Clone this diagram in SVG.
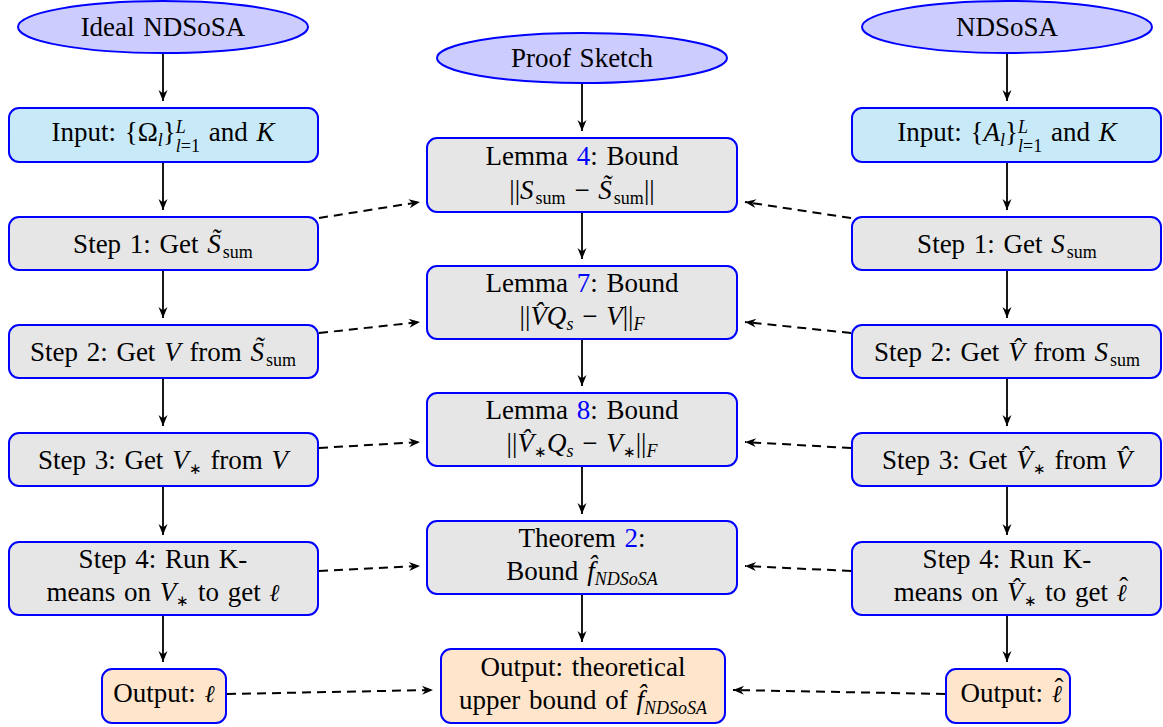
<svg xmlns="http://www.w3.org/2000/svg" width="1163" height="727" viewBox="0 0 1163 727">
<style>
.t{font-family:"Liberation Serif","Times New Roman",serif;font-size:27px;word-spacing:2px;fill:#000;text-anchor:middle}
.i{font-style:italic}
.s{font-size:18px;word-spacing:0}
.a{font-size:15px}
.ell2{font-family:"DejaVu Serif",serif;font-style:italic;font-size:24px}
.b{fill:#0000FF}
.ell{fill:#CCCCFF;stroke:#0000FF;stroke-width:2}
.box{fill:#E6E6E6;stroke:#0000FF;stroke-width:2}
.inp{fill:#C8EAF8;stroke:#0000FF;stroke-width:2}
.out{fill:#FFE5CC;stroke:#0000FF;stroke-width:2}
.sol{fill:none;stroke:#000;stroke-width:1.8;marker-end:url(#ah)}
.dsh{fill:none;stroke:#000;stroke-width:2;stroke-dasharray:9 6;marker-end:url(#ah)}
</style>
<defs>
<marker id="ah" markerUnits="userSpaceOnUse" viewBox="-12 -6 13 12" markerWidth="13" markerHeight="12" refX="0" refY="0" orient="auto">
<path d="M0,0 L-11,-4.5 L-7.5,0 L-11,4.5 Z" fill="#000"/>
</marker>
</defs>

<g id="connectors">
<line class="sol" x1="163" y1="53" x2="163" y2="101"/>
<line class="sol" x1="163" y1="162" x2="163" y2="210"/>
<line class="sol" x1="163" y1="270" x2="163" y2="318"/>
<line class="sol" x1="163" y1="378" x2="163" y2="426"/>
<line class="sol" x1="163" y1="486" x2="163" y2="535"/>
<line class="sol" x1="163" y1="615" x2="163" y2="662"/>
<line class="sol" x1="582" y1="83" x2="582" y2="131"/>
<line class="sol" x1="582" y1="212" x2="582" y2="259"/>
<line class="sol" x1="582" y1="339" x2="582" y2="386"/>
<line class="sol" x1="582" y1="466" x2="582" y2="514"/>
<line class="sol" x1="582" y1="594" x2="582" y2="642"/>
<line class="sol" x1="1007" y1="53" x2="1007" y2="101"/>
<line class="sol" x1="1007" y1="162" x2="1007" y2="210"/>
<line class="sol" x1="1007" y1="270" x2="1007" y2="318"/>
<line class="sol" x1="1007" y1="378" x2="1007" y2="426"/>
<line class="sol" x1="1007" y1="486" x2="1007" y2="535"/>
<line class="sol" x1="1007" y1="615" x2="1007" y2="662"/>
<line class="dsh" x1="319" y1="218" x2="420" y2="202"/>
<line class="dsh" x1="319" y1="333" x2="420" y2="322"/>
<line class="dsh" x1="319" y1="448" x2="420" y2="442"/>
<line class="dsh" x1="319" y1="571" x2="420" y2="566"/>
<line class="dsh" x1="227" y1="694" x2="433" y2="690"/>
<line class="dsh" x1="851" y1="218" x2="745" y2="202"/>
<line class="dsh" x1="851" y1="333" x2="745" y2="322"/>
<line class="dsh" x1="851" y1="448" x2="745" y2="442"/>
<line class="dsh" x1="851" y1="571" x2="745" y2="566"/>
<line class="dsh" x1="945" y1="694" x2="733" y2="690"/>
</g>

<g id="ideal">
<ellipse class="ell" cx="163" cy="27" rx="145" ry="26"/>
<text class="t" x="163" y="36">Ideal NDSoSA</text>
</g>
<g id="input-left">
<rect class="inp" x="9" y="108" width="309" height="54" rx="10"/>
<text class="t" x="163" y="141">Input: {Ω<tspan class="i s" dy="5">l</tspan><tspan dy="-5">}</tspan><tspan class="i s" dy="-8">L</tspan><tspan class="i s" dx="-10" dy="19">l</tspan><tspan class="s">=1</tspan><tspan dy="-11"> and </tspan><tspan class="i">K</tspan></text>
</g>
<g id="step1-left">
<rect class="box" x="9" y="217" width="309" height="53" rx="10"/>
<text class="t" x="163" y="253">Step 1: Get <tspan class="i">S&#x303;</tspan><tspan class="s" dx="2" dy="5">sum</tspan></text>
</g>
<g id="step2-left">
<rect class="box" x="9" y="325" width="309" height="53" rx="10"/>
<text class="t" x="163" y="361">Step 2: Get <tspan class="i">V</tspan> from <tspan class="i">S&#x303;</tspan><tspan class="s" dx="2" dy="5">sum</tspan></text>
</g>
<g id="step3-left">
<rect class="box" x="9" y="433" width="309" height="53" rx="10"/>
<text class="t" x="163" y="469">Step 3: Get <tspan class="i">V</tspan><tspan class="a" dy="5">∗</tspan><tspan dy="-5"> from </tspan><tspan class="i">V</tspan></text>
</g>
<g id="step4-left">
<rect class="box" x="9" y="542" width="309" height="73" rx="10"/>
<text class="t" x="163" y="568">Step 4: Run K-</text>
<text class="t" x="163" y="601">means on <tspan class="i">V</tspan><tspan class="a" dy="5">∗</tspan><tspan dy="-5"> to get </tspan><tspan class="ell2">ℓ</tspan></text>
</g>
<g id="output-left">
<rect class="out" x="102" y="669" width="124" height="54" rx="10"/>
<text class="t" x="164" y="702">Output: <tspan class="ell2">ℓ</tspan></text>
</g>

<g id="proof">
<ellipse class="ell" cx="582" cy="58" rx="145" ry="25"/>
<text class="t" x="582" y="67">Proof Sketch</text>
</g>
<g id="lemma4">
<rect class="box" x="427" y="138" width="310" height="74" rx="10"/>
<text class="t" x="582" y="165">Lemma <tspan class="b">4</tspan>: Bound</text>
<text class="t" x="582" y="199">||<tspan class="i">S</tspan><tspan class="s" dx="2" dy="5">sum</tspan><tspan dy="-5"> − </tspan><tspan class="i">S&#x303;</tspan><tspan class="s" dx="2" dy="5">sum</tspan><tspan dy="-5">||</tspan></text>
</g>
<g id="lemma7">
<rect class="box" x="427" y="266" width="310" height="73" rx="10"/>
<text class="t" x="582" y="292">Lemma <tspan class="b">7</tspan>: Bound</text>
<text class="t" x="582" y="325">||<tspan class="i">V&#x302;Q</tspan><tspan class="i s" dy="5">s</tspan><tspan dy="-5"> − </tspan><tspan class="i">V</tspan>||<tspan class="i s" dy="5">F</tspan></text>
</g>
<g id="lemma8">
<rect class="box" x="427" y="393" width="310" height="73" rx="10"/>
<text class="t" x="582" y="419">Lemma <tspan class="b">8</tspan>: Bound</text>
<text class="t" x="582" y="452">||<tspan class="i">V&#x302;</tspan><tspan class="a" dy="5">∗</tspan><tspan class="i" dy="-5">Q</tspan><tspan class="i s" dy="5">s</tspan><tspan dy="-5"> − </tspan><tspan class="i">V</tspan><tspan class="a" dy="5">∗</tspan><tspan dy="-5">||</tspan><tspan class="i s" dy="5">F</tspan></text>
</g>
<g id="theorem2">
<rect class="box" x="427" y="521" width="310" height="73" rx="10"/>
<text class="t" x="582" y="547">Theorem <tspan class="b">2</tspan>:</text>
<text class="t" x="582" y="580">Bound <tspan class="i">f&#x302;</tspan><tspan class="i s" dy="5">NDSoSA</tspan></text>
</g>
<g id="output-center">
<rect class="out" x="441" y="649" width="284" height="74" rx="10"/>
<text class="t" x="583" y="676">Output: theoretical</text>
<text class="t" x="583" y="709">upper bound of <tspan class="i">f&#x302;</tspan><tspan class="i s" dy="5">NDSoSA</tspan></text>
</g>

<g id="ndsosa">
<ellipse class="ell" cx="1007" cy="27" rx="145" ry="26"/>
<text class="t" x="1007" y="36">NDSoSA</text>
</g>
<g id="input-right">
<rect class="inp" x="852" y="108" width="309" height="54" rx="10"/>
<text class="t" x="1007" y="141">Input: {<tspan class="i">A</tspan><tspan class="i s" dy="5">l</tspan><tspan dy="-5">}</tspan><tspan class="i s" dy="-8">L</tspan><tspan class="i s" dx="-10" dy="19">l</tspan><tspan class="s">=1</tspan><tspan dy="-11"> and </tspan><tspan class="i">K</tspan></text>
</g>
<g id="step1-right">
<rect class="box" x="852" y="217" width="309" height="53" rx="10"/>
<text class="t" x="1007" y="253">Step 1: Get <tspan class="i">S</tspan><tspan class="s" dx="2" dy="5">sum</tspan></text>
</g>
<g id="step2-right">
<rect class="box" x="852" y="325" width="309" height="53" rx="10"/>
<text class="t" x="1007" y="361">Step 2: Get <tspan class="i">V&#x302;</tspan> from <tspan class="i">S</tspan><tspan class="s" dx="2" dy="5">sum</tspan></text>
</g>
<g id="step3-right">
<rect class="box" x="852" y="433" width="309" height="53" rx="10"/>
<text class="t" x="1007" y="469">Step 3: Get <tspan class="i">V&#x302;</tspan><tspan class="a" dy="5">∗</tspan><tspan dy="-5"> from </tspan><tspan class="i">V&#x302;</tspan></text>
</g>
<g id="step4-right">
<rect class="box" x="852" y="542" width="309" height="73" rx="10"/>
<text class="t" x="1007" y="568">Step 4: Run K-</text>
<text class="t" x="1011" y="601">means on <tspan class="i">V&#x302;</tspan><tspan class="a" dy="5">∗</tspan><tspan dy="-5"> to get </tspan><tspan class="ell2">ℓ</tspan><tspan dx="-7.5" dy="-5">ˆ</tspan></text>
</g>
<g id="output-right">
<rect class="out" x="946" y="669" width="124" height="54" rx="10"/>
<text class="t" x="1012" y="702">Output: <tspan class="ell2">ℓ</tspan><tspan dx="-7.5" dy="-5">ˆ</tspan></text>
</g>
</svg>
